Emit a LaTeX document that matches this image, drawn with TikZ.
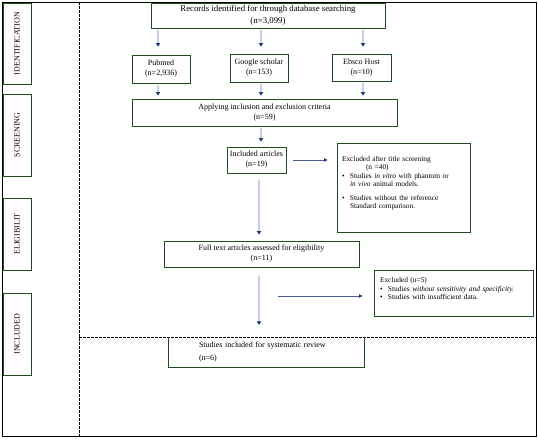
\documentclass[tikz,border=0pt]{standalone}
\usepackage{fontspec}
\setmainfont{Liberation Serif}
\usetikzlibrary{arrows.meta,calc}
\definecolor{grn}{HTML}{1E4D1E}
\definecolor{shaftc}{HTML}{C8D0E4}
\definecolor{navyc}{HTML}{1F3A78}
\definecolor{hshaftc}{HTML}{4A5E90}
\newcommand{\bul}{\makebox[8pt][l]{\textbullet}}
\begin{document}
\begin{tikzpicture}[
  box/.style={draw=grn, line width=0.9pt, inner sep=1pt, align=center, font=\fontsize{8}{10}\selectfont},
  exbox/.style={draw=grn, line width=0.9pt, inner ysep=2pt, align=left, font=\fontsize{7.4}{8.5}\selectfont},
  sidebox/.style={draw=grn, line width=0.9pt, fill=white, inner sep=0pt, rotate=90, font=\fontsize{8}{10}\selectfont},
  varrow/.style={draw=shaftc, line width=1.6pt, -{Triangle[length=3.5pt,width=4.5pt,color=navyc]}},
  harrow/.style={draw=hshaftc, line width=0.8pt, -{Triangle[length=3.5pt,width=3.5pt,color=navyc]}},
  frame/.style={draw=black, line width=0.8pt},
  dline/.style={draw=black, line width=0.6pt, dash pattern=on 2.5pt off 1.5pt},
]
\useasboundingbox (0,0) rectangle (538pt,-439pt);
\begin{scope}[x=1pt,y=1pt]
% frame and dashed dividers
\draw[frame] (2,-2) rectangle (536,-436);
\draw[dline] (79,-2) -- (79,-436);
\draw[dline] (79,-337) -- (536,-337);

% side labels
\node[sidebox, minimum width=81pt, minimum height=28pt] (sid) at (17,-43.5) {IDENTIFICATION};
\node[sidebox, minimum width=82pt, minimum height=28pt] (sscr) at (17,-135) {SCREENING};
\node[sidebox, minimum width=72pt, minimum height=28pt] (selg) at (17,-234) {ELIGIBILIT};
\node[sidebox, minimum width=82pt, minimum height=28pt] (sinc) at (17,-334) {INCLUDED};

% main boxes
\node[box, font=\fontsize{8.8}{12}\selectfont, minimum width=234pt, minimum height=25pt] (rec) at (268,-15.5)
  {Records identified for through database searching\\(n=3,099)};
\node[box, minimum width=58pt, minimum height=28pt] (pub) at (161,-69) {Pubmed\\(n=2,936)};
\node[box, minimum width=58pt, minimum height=28pt] (goo) at (259,-68) {Google scholar\\(n=153)};
\node[box, minimum width=59pt, minimum height=27pt] (ebs) at (361.5,-67.5) {Ebsco Host\\(n=10)};
\node[box, minimum width=265pt, minimum height=27pt] (app) at (264.5,-112.5) {Applying inclusion and exclusion criteria\\(n=59)};
\node[box, minimum width=59pt, minimum height=26pt] (inc) at (256.5,-160) {Included articles\\(n=19)};
\node[exbox, inner xsep=5pt, text width=123pt, minimum height=89pt] (exa) at (403.5,-187.5)
  {Excluded after title screening\\
   \hspace*{24pt}(n =40)\\
   \bul Studies \emph{in vitro} with phantom or\\
   \hspace*{8pt}\emph{in vivo} animal models.\\[5pt]
   \bul Studies without the reference\\
   \hspace*{8pt}Standard comparison.\\[2pt]\mbox{}};
\node[box, minimum width=195pt, minimum height=26pt] (ful) at (261.5,-254) {Full text articles assessed for eligibility\\(n=11)};
\node[exbox, inner xsep=6pt, text width=147pt, minimum height=46pt] (exb) at (453.5,-293)
  {Excluded (n=5)\\
   \bul Studies \emph{without sensitivity and specificity.}\\
   \bul Studies with insufficient data.\\\mbox{}};
\node[inner xsep=30pt, inner ysep=0pt, text width=135pt, align=left, minimum width=195pt, minimum height=30pt,
      font=\fontsize{8}{13}\selectfont] (stu) at (266.5,-352)
  {Studies included for systematic review\\(n=6)};
\draw[grn, line width=0.9pt] (stu.north west) |- (stu.south east) -- (stu.north east);

% vertical arrows
\draw[varrow, shorten <=2pt, shorten >=8pt] ([xshift=-3pt]pub.north |- rec.south) -- ([xshift=-3pt]pub.north);
\draw[varrow, shorten <=2pt, shorten >=7pt] ([xshift=2pt]goo.north |- rec.south) -- ([xshift=2pt]goo.north);
\draw[varrow, shorten <=2pt, shorten >=7pt] ([xshift=1.5pt]ebs.north |- rec.south) -- ([xshift=1.5pt]ebs.north);
\draw[varrow, shorten <=2pt, shorten >=3pt] ([xshift=-3pt]pub.south) -- ([xshift=-3pt]pub.south |- app.north);
\draw[varrow, shorten <=2pt, shorten >=3pt] ([xshift=2pt]goo.south) -- ([xshift=2pt]goo.south |- app.north);
\draw[varrow, shorten <=2pt, shorten >=3pt] ([xshift=1.5pt]ebs.south) -- ([xshift=1.5pt]ebs.south |- app.north);
\draw[varrow, shorten <=2pt, shorten >=5pt] ([xshift=4.5pt]inc.north |- app.south) -- ([xshift=4.5pt]inc.north);
\draw[varrow, shorten <=7pt, shorten >=6pt] ([xshift=2.5pt]inc.south) -- ([xshift=2.5pt]inc.south |- ful.north);
\draw[varrow, shorten <=9pt, shorten >=12pt] ([xshift=-2.5pt]ful.south) -- ([xshift=-2.5pt]ful.south |- stu.north);

% horizontal arrows
\draw[harrow, shorten <=7pt, shorten >=9pt] (inc.east) -- (inc.east -| exa.west);
\coordinate (fx) at (278,-296);
\draw[harrow, shorten >=11pt] (fx) -- (fx -| exb.west);
\end{scope}
\end{tikzpicture}
\end{document}
